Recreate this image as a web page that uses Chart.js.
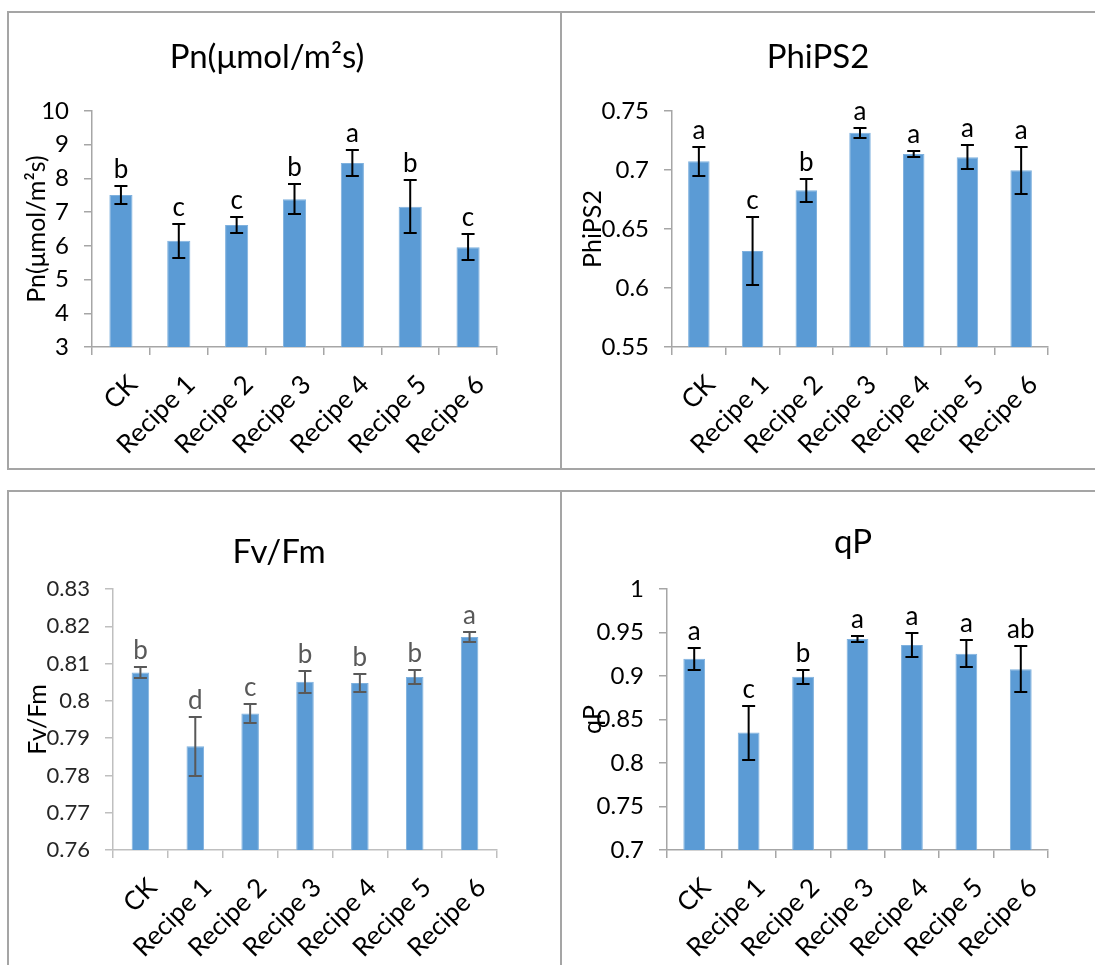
<!DOCTYPE html>
<html>
<head>
<meta charset="utf-8">
<script src="https://cdn.jsdelivr.net/npm/chart.js@4"></script>
<style>
    body { margin: 0; background: #fff; width: 1095px; height: 965px; overflow: hidden; position: relative; }
    .panel { position: absolute; border: 2px solid #a5a5a5; box-sizing: border-box; background: #fff; }
    .panel canvas { position: absolute; left: 0; top: 0; }
</style>
</head>
<body>
<div class="panel" style="left:7px;top:11px;width:555px;height:459px;"><canvas id="pnChart"></canvas></div>
<div class="panel" style="left:560px;top:11px;width:545px;height:459px;"><canvas id="phiChart"></canvas></div>
<div class="panel" style="left:7px;top:490px;width:555px;height:490px;"><canvas id="fvChart"></canvas></div>
<div class="panel" style="left:560px;top:490px;width:545px;height:490px;"><canvas id="qpChart"></canvas></div>

<script>
// categories shared by all four panels
const categories = ["CK", "Recipe 1", "Recipe 2", "Recipe 3", "Recipe 4", "Recipe 5", "Recipe 6"];

// Pn (µmol/m2s)
const pnValues = [7.51, 6.15, 6.62, 7.38, 8.46, 7.16, 5.96];
const pnErrors = [0.28, 0.50, 0.25, 0.44, 0.39, 0.78, 0.38];
const pnLetters = ["b", "c", "c", "b", "a", "b", "c"];
const pnTicks = [3, 4, 5, 6, 7, 8, 9, 10];

// PhiPS2
const phiValues = [0.7074, 0.6314, 0.6828, 0.7316, 0.7136, 0.7108, 0.6997];
const phiErrors = [0.0125, 0.029, 0.0097, 0.0044, 0.0026, 0.0102, 0.0198];
const phiLetters = ["a", "c", "b", "a", "a", "a", "a"];
const phiTicks = [0.55, 0.6, 0.65, 0.7, 0.75];

// Fv/Fm
const fvValues = [0.8076, 0.7878, 0.7966, 0.8051, 0.8048, 0.8064, 0.8171];
const fvErrors = [0.0014, 0.0080, 0.0025, 0.0030, 0.0023, 0.0018, 0.0014];
const fvLetters = ["b", "d", "c", "b", "b", "b", "a"];
const fvTicks = [0.76, 0.77, 0.78, 0.79, 0.8, 0.81, 0.82, 0.83];

// qP
const qpValues = [0.9198, 0.835, 0.8991, 0.9425, 0.9356, 0.9256, 0.9079];
const qpErrors = [0.0128, 0.031, 0.0083, 0.0036, 0.0134, 0.0157, 0.0265];
const qpLetters = ["a", "c", "b", "a", "a", "a", "ab"];
const qpTicks = [0.7, 0.75, 0.8, 0.85, 0.9, 0.95, 1];

const FONT = "Lato";
const BAR_COLOR = "#5b9bd5";

// draws error bars, significance letters and the chart title
const errorBarPlugin = {
    id: "errorBars",
    afterDatasetsDraw(chart, args, o) {
        const ctx = chart.ctx;
        const x = chart.scales.x;
        const y = chart.scales.y;
        ctx.save();
        ctx.strokeStyle = o.color;
        ctx.lineWidth = 2;
        ctx.fillStyle = o.letterColor;
        ctx.font = `${o.letterSize}px ${FONT}`;
        ctx.textAlign = "center";
        ctx.textBaseline = "alphabetic";
        for (let i = 0; i < o.values.length; i++) {
            const cx = x.getPixelForValue(i);
            const top = Math.round(y.getPixelForValue(o.values[i] + o.errors[i]));
            const bot = Math.round(y.getPixelForValue(o.values[i] - o.errors[i]));
            ctx.beginPath();
            ctx.moveTo(cx, top);
            ctx.lineTo(cx, bot);
            ctx.moveTo(cx - 6.5, top);
            ctx.lineTo(cx + 6.5, top);
            ctx.moveTo(cx - 6.5, bot);
            ctx.lineTo(cx + 6.5, bot);
            ctx.stroke();
            ctx.fillText(o.letters[i], cx, top - 8);
        }
        // title
        ctx.fillStyle = "#000";
        ctx.font = `${o.titleSize}px ${FONT}`;
        ctx.textBaseline = "middle";
        ctx.fillText(o.title, o.titleX, o.titleY);
        ctx.restore();
    }
};

function makeChart(id, cfg) {
    const canvas = document.getElementById(id);
    canvas.width = cfg.width;
    canvas.height = cfg.height;
    canvas.style.width = cfg.width + "px";
    canvas.style.height = cfg.height + "px";
    const ticks = cfg.ticks;
    return new Chart(canvas.getContext("2d"), {
        type: "bar",
        data: {
            labels: categories,
            datasets: [{
                data: cfg.values,
                backgroundColor: BAR_COLOR,
                borderColor: "#7fb1de",
                borderWidth: 1,
                barPercentage: cfg.barPct,
                categoryPercentage: 1
            }]
        },
        options: {
            responsive: false,
            animation: false,
            events: [],
            layout: { padding: { top: cfg.top, right: cfg.right, left: 0, bottom: 0 } },
            plugins: {
                legend: { display: false },
                title: { display: false },
                tooltip: { enabled: false },
                errorBars: {
                    values: cfg.values,
                    errors: cfg.errors,
                    letters: cfg.letters,
                    color: cfg.errColor,
                    letterColor: cfg.errColor,
                    letterSize: 26,
                    title: cfg.title,
                    titleX: cfg.titleX,
                    titleY: cfg.titleY,
                    titleSize: 33
                }
            },
            scales: {
                x: {
                    offset: true,
                    grid: { display: true, drawOnChartArea: false, offset: true, tickLength: 8, color: cfg.axisColor, lineWidth: 1.5 },
                    border: { color: cfg.axisColor, width: 1.5 },
                    ticks: { color: "#000", maxRotation: 45, minRotation: 45, padding: 14, labelOffset: 12, font: { family: FONT, size: 26 } },
                    afterFit: s => { s.height = cfg.xHeight; }
                },
                y: {
                    min: ticks[0],
                    max: ticks[ticks.length - 1],
                    afterBuildTicks: s => { s.ticks = ticks.map(v => ({ value: v })); },
                    grid: { display: true, drawOnChartArea: false, tickLength: 8, color: cfg.axisColor, lineWidth: 1.5 },
                    border: { color: cfg.axisColor, width: 1.5 },
                    ticks: {
                        color: cfg.tickColor,
                        padding: 15,
                        font: { family: FONT, size: cfg.tickSize },
                        callback: v => String(+Number(v).toFixed(3))
                    },
                    title: {
                        display: true,
                        text: cfg.yTitle,
                        color: "#000",
                        font: { family: FONT, size: 25 },
                        padding: { top: cfg.yTitlePad, bottom: 0 }
                    },
                    afterFit: s => { s.width = cfg.yWidth; }
                }
            }
        },
        plugins: [errorBarPlugin]
    });
}

makeChart("pnChart", {
    width: 551, height: 455, top: 98, right: 63, xHeight: 121, yWidth: 83, yTitlePad: 13,
    values: pnValues, errors: pnErrors, letters: pnLetters, ticks: pnTicks,
    title: "Pn(\u03bcmol/m\u00b2s)", titleX: 258, titleY: 44, yTitle: "Pn(\u03bcmol/m\u00b2s)",
    barPct: 0.4, axisColor: "#a6a6a6", errColor: "#000", tickColor: "#000", tickSize: 24
});

makeChart("phiChart", {
    width: 533, height: 455, top: 98, right: 47, xHeight: 121, yWidth: 110, yTitlePad: 16,
    values: phiValues, errors: phiErrors, letters: phiLetters, ticks: phiTicks,
    title: "PhiPS2", titleX: 256, titleY: 44, yTitle: "PhiPS2",
    barPct: 0.4, axisColor: "#a6a6a6", errColor: "#000", tickColor: "#000", tickSize: 24
});

makeChart("fvChart", {
    width: 551, height: 473, top: 97, right: 63, xHeight: 115, yWidth: 104, yTitlePad: 14,
    values: fvValues, errors: fvErrors, letters: fvLetters, ticks: fvTicks,
    title: "Fv/Fm", titleX: 270, titleY: 60, yTitle: "Fv/Fm",
    barPct: 0.32, axisColor: "#bfbfbf", errColor: "#595959", tickColor: "#262626", tickSize: 22
});

makeChart("qpChart", {
    width: 533, height: 473, top: 97, right: 47, xHeight: 115, yWidth: 105, yTitlePad: 16,
    values: qpValues, errors: qpErrors, letters: qpLetters, ticks: qpTicks,
    title: "qP", titleX: 291, titleY: 50, yTitle: "qP",
    barPct: 0.4, axisColor: "#a6a6a6", errColor: "#000", tickColor: "#000", tickSize: 24
});
</script>
</body>
</html>
